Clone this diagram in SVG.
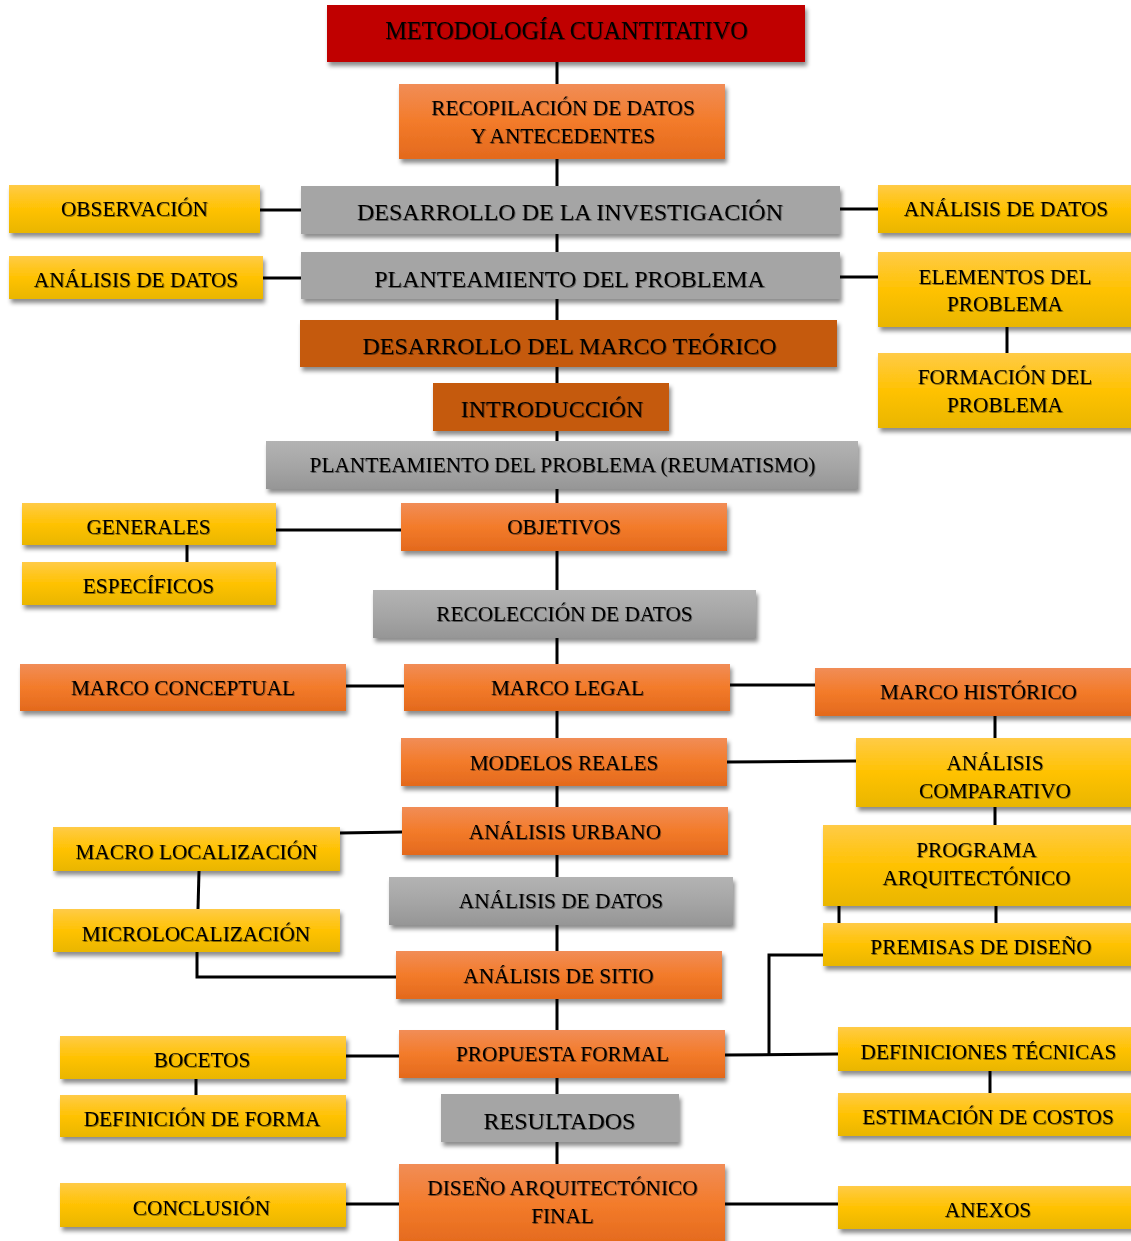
<svg xmlns="http://www.w3.org/2000/svg" width="1131" height="1241" viewBox="0 0 1131 1241">
  <defs>
    <linearGradient id="gOrg" x1="0" y1="0" x2="0" y2="1">
      <stop offset="0" stop-color="#F18D57"/>
      <stop offset="0.5" stop-color="#F37B2A"/>
      <stop offset="1" stop-color="#E3691D"/>
    </linearGradient>
    <linearGradient id="gYel" x1="0" y1="0" x2="0" y2="1">
      <stop offset="0" stop-color="#FFCB47"/>
      <stop offset="0.5" stop-color="#FFC202"/>
      <stop offset="1" stop-color="#E9B600"/>
    </linearGradient>
    <linearGradient id="gGry" x1="0" y1="0" x2="0" y2="1">
      <stop offset="0" stop-color="#B3B3B3"/>
      <stop offset="0.5" stop-color="#A6A6A6"/>
      <stop offset="1" stop-color="#969696"/>
    </linearGradient>
    <filter id="sh" x="-5%" y="-20%" width="115%" height="150%">
      <feDropShadow dx="2" dy="4" stdDeviation="2.2" flood-color="#000" flood-opacity="0.45"/>
    </filter>
    <filter id="ts" x="-5%" y="-30%" width="110%" height="160%">
      <feDropShadow dx="0.8" dy="1" stdDeviation="0.7" flood-color="#000" flood-opacity="0.45"/>
    </filter>
  </defs>
  <style>
    .box{filter:url(#sh)}
    .red{fill:#C00000}
    .rust{fill:#C55A11}
    .org{fill:url(#gOrg)}
    .yel{fill:url(#gYel)}
    .gry{fill:#A5A5A5}
    .gryg{fill:url(#gGry)}
    text{font-family:"Liberation Serif","Times New Roman",serif;fill:#000;text-anchor:middle;filter:url(#ts)}
    .b{font-size:24px}
    .t{font-size:24.4px}
    .r{font-size:21.3px}
    .c{stroke:#000;stroke-width:3;fill:none}
  </style>

  <!-- connectors -->
  <g id="connectors">
    <line class="c" x1="557" y1="62" x2="557" y2="1164"/>
    <line class="c" x1="260" y1="210" x2="301" y2="210"/>
    <line class="c" x1="263" y1="278" x2="301" y2="278"/>
    <line class="c" x1="840" y1="209" x2="878" y2="209"/>
    <line class="c" x1="840" y1="277" x2="878" y2="277"/>
    <line class="c" x1="1007" y1="327" x2="1007" y2="353"/>
    <line class="c" x1="276" y1="530" x2="401" y2="530"/>
    <line class="c" x1="187" y1="545" x2="187" y2="562"/>
    <line class="c" x1="346" y1="686" x2="404" y2="686"/>
    <line class="c" x1="730" y1="685" x2="815" y2="685"/>
    <line class="c" x1="995" y1="716" x2="995" y2="738"/>
    <line class="c" x1="727" y1="762" x2="856" y2="761"/>
    <line class="c" x1="995" y1="807" x2="995" y2="825"/>
    <line class="c" x1="996" y1="906" x2="996" y2="923"/>
    <line class="c" x1="839" y1="906" x2="839" y2="923"/>
    <line class="c" x1="340" y1="833" x2="402" y2="832"/>
    <line class="c" x1="199" y1="871" x2="198" y2="909"/>
    <polyline class="c" points="197,952 197,977 396,977"/>
    <polyline class="c" points="823,955 769,955 769,1055"/>
    <line class="c" x1="725" y1="1055" x2="838" y2="1054"/>
    <line class="c" x1="990" y1="1071" x2="990" y2="1093"/>
    <line class="c" x1="346" y1="1056" x2="399" y2="1056"/>
    <line class="c" x1="196" y1="1079" x2="196" y2="1095"/>
    <line class="c" x1="346" y1="1204" x2="399" y2="1204"/>
    <line class="c" x1="725" y1="1204" x2="838" y2="1204"/>
  </g>

  <!-- nodes -->
  <g id="n-metodologia"><rect class="box red" x="327" y="5" width="478" height="57"/><text class="t" x="566.5" y="39">METODOLOGÍA CUANTITATIVO</text></g>
  <g id="n-recopilacion"><rect class="box org" x="399" y="84" width="326" height="75"/><text class="r" x="563" y="115">RECOPILACIÓN DE DATOS</text><text class="r" x="563" y="143">Y ANTECEDENTES</text></g>
  <g id="n-desarrollo-inv"><rect class="box gry" x="301" y="186" width="539" height="48"/><text class="b" x="570" y="220">DESARROLLO DE LA INVESTIGACIÓN</text></g>
  <g id="n-observacion"><rect class="box yel" x="9" y="185" width="251" height="48"/><text class="r" x="134.5" y="216">OBSERVACIÓN</text></g>
  <g id="n-analisis-datos-der"><rect class="box yel" x="878" y="185" width="256" height="48"/><text class="r" x="1006" y="216">ANÁLISIS DE DATOS</text></g>
  <g id="n-analisis-datos-izq"><rect class="box yel" x="9" y="256" width="254" height="43"/><text class="r" x="136" y="287">ANÁLISIS DE DATOS</text></g>
  <g id="n-planteamiento"><rect class="box gry" x="301" y="252" width="539" height="47"/><text class="b" x="569.5" y="287">PLANTEAMIENTO DEL PROBLEMA</text></g>
  <g id="n-elementos"><rect class="box yel" x="878" y="252" width="256" height="75"/><text class="r" x="1005" y="284">ELEMENTOS DEL</text><text class="r" x="1005" y="311">PROBLEMA</text></g>
  <g id="n-formacion"><rect class="box yel" x="878" y="353" width="256" height="75"/><text class="r" x="1005" y="384">FORMACIÓN DEL</text><text class="r" x="1005" y="412">PROBLEMA</text></g>
  <g id="n-marco-teorico"><rect class="box rust" x="300" y="320" width="537" height="47"/><text class="b" x="569.5" y="354">DESARROLLO DEL MARCO TEÓRICO</text></g>
  <g id="n-introduccion"><rect class="box rust" x="433" y="383" width="236" height="48"/><text class="b" x="552" y="417">INTRODUCCIÓN</text></g>
  <g id="n-reumatismo"><rect class="box gryg" x="266" y="441" width="592" height="48"/><text class="r" x="562.5" y="472">PLANTEAMIENTO DEL PROBLEMA (REUMATISMO)</text></g>
  <g id="n-generales"><rect class="box yel" x="22" y="503" width="254" height="42"/><text class="r" x="148.5" y="534">GENERALES</text></g>
  <g id="n-especificos"><rect class="box yel" x="22" y="562" width="254" height="43"/><text class="r" x="148.5" y="593">ESPECÍFICOS</text></g>
  <g id="n-objetivos"><rect class="box org" x="401" y="503" width="326" height="48"/><text class="r" x="564" y="534">OBJETIVOS</text></g>
  <g id="n-recoleccion"><rect class="box gryg" x="373" y="590" width="383" height="48"/><text class="r" x="564.5" y="621">RECOLECCIÓN DE DATOS</text></g>
  <g id="n-marco-conceptual"><rect class="box org" x="20" y="664" width="326" height="47"/><text class="r" x="183" y="695">MARCO CONCEPTUAL</text></g>
  <g id="n-marco-legal"><rect class="box org" x="404" y="664" width="326" height="47"/><text class="r" x="567.5" y="695">MARCO LEGAL</text></g>
  <g id="n-marco-historico"><rect class="box org" x="815" y="668" width="319" height="48"/><text class="r" x="978.5" y="699">MARCO HISTÓRICO</text></g>
  <g id="n-modelos-reales"><rect class="box org" x="401" y="738" width="326" height="48"/><text class="r" x="564" y="770">MODELOS REALES</text></g>
  <g id="n-analisis-comparativo"><rect class="box yel" x="856" y="738" width="278" height="69"/><text class="r" x="995" y="770">ANÁLISIS</text><text class="r" x="995" y="798">COMPARATIVO</text></g>
  <g id="n-analisis-urbano"><rect class="box org" x="402" y="807" width="326" height="48"/><text class="r" x="565" y="839">ANÁLISIS URBANO</text></g>
  <g id="n-macro-localizacion"><rect class="box yel" x="53" y="827" width="287" height="44"/><text class="r" x="196.5" y="859">MACRO LOCALIZACIÓN</text></g>
  <g id="n-analisis-datos-centro"><rect class="box gryg" x="389" y="877" width="344" height="48"/><text class="r" x="561" y="908">ANÁLISIS DE DATOS</text></g>
  <g id="n-programa"><rect class="box yel" x="823" y="825" width="311" height="81"/><text class="r" x="976.5" y="857">PROGRAMA</text><text class="r" x="976.5" y="885">ARQUITECTÓNICO</text></g>
  <g id="n-microlocalizacion"><rect class="box yel" x="53" y="909" width="287" height="43"/><text class="r" x="196" y="941">MICROLOCALIZACIÓN</text></g>
  <g id="n-premisas"><rect class="box yel" x="823" y="923" width="311" height="43"/><text class="r" x="981" y="954">PREMISAS DE DISEÑO</text></g>
  <g id="n-analisis-sitio"><rect class="box org" x="396" y="951" width="326" height="48"/><text class="r" x="558.5" y="983">ANÁLISIS DE SITIO</text></g>
  <g id="n-bocetos"><rect class="box yel" x="60" y="1036" width="286" height="43"/><text class="r" x="202" y="1067">BOCETOS</text></g>
  <g id="n-propuesta"><rect class="box org" x="399" y="1030" width="326" height="48"/><text class="r" x="562.5" y="1061">PROPUESTA FORMAL</text></g>
  <g id="n-definiciones"><rect class="box yel" x="838" y="1027" width="296" height="44"/><text class="r" x="988.5" y="1059">DEFINICIONES TÉCNICAS</text></g>
  <g id="n-definicion-forma"><rect class="box yel" x="60" y="1095" width="286" height="42"/><text class="r" x="202" y="1126">DEFINICIÓN DE FORMA</text></g>
  <g id="n-resultados"><rect class="box gry" x="441" y="1094" width="238" height="48"/><text class="b" x="559.5" y="1129">RESULTADOS</text></g>
  <g id="n-estimacion"><rect class="box yel" x="838" y="1093" width="296" height="43"/><text class="r" x="988" y="1124">ESTIMACIÓN DE COSTOS</text></g>
  <g id="n-diseno-final"><rect class="box org" x="399" y="1164" width="326" height="82"/><text class="r" x="562.5" y="1195">DISEÑO ARQUITECTÓNICO</text><text class="r" x="562.5" y="1223">FINAL</text></g>
  <g id="n-conclusion"><rect class="box yel" x="60" y="1183" width="286" height="44"/><text class="r" x="201.5" y="1215">CONCLUSIÓN</text></g>
  <g id="n-anexos"><rect class="box yel" x="838" y="1186" width="296" height="43"/><text class="r" x="988" y="1217">ANEXOS</text></g>
</svg>
